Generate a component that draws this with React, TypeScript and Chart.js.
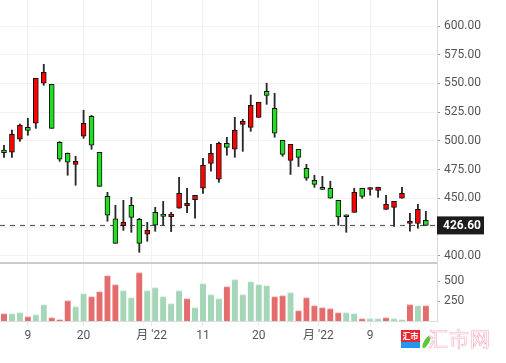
import React, { useEffect, useRef } from 'react';
import { Chart, registerables } from 'chart.js';

Chart.register(...registerables);

// ---- data ----
const opens = [
  492.2, 490.2, 501.5, 511.9, 515.4, 550.2, 549.3, 498.9, 489.3, 479.7,
  504.1, 521.5, 490.2, 451.9, 432.4, 426.3, 444.1, 431.9, 418.9, 438.0,
  436.5, 434.2, 441.5, 443.7, 449.0, 458.9, 480.6, 466.7, 498.0, 492.8,
  514.5, 511.9, 520.6, 543.2, 528.4, 500.6, 483.2, 492.8, 476.3, 465.8,
  459.7, 458.9, 448.4, 435.8, 438.0, 458.9, 458.0, 457.1, 440.6, 442.3,
  450.2, 428.4, 428.4, 431.0,
];
const highs = [
  496.3, 509.6, 514.8, 519.7, 554.5, 566.7, 549.3, 499.5, 489.6, 486.7,
  526.7, 522.3, 490.2, 455.4, 444.1, 448.4, 451.0, 432.8, 429.3, 442.3,
  447.5, 438.0, 468.4, 458.9, 452.7, 485.0, 497.1, 499.1, 503.2, 520.6,
  518.9, 540.0, 533.6, 550.2, 541.5, 500.6, 497.1, 492.8, 479.7, 470.2,
  469.3, 465.0, 448.4, 435.8, 458.9, 458.9, 459.6, 459.8, 452.8, 447.5,
  459.7, 437.1, 445.0, 438.9,
];
const lows = [
  485.8, 485.8, 499.7, 505.0, 511.0, 548.4, 511.0, 482.3, 470.2, 461.5,
  502.3, 492.8, 460.6, 430.2, 411.0, 422.3, 420.6, 403.2, 412.8, 421.5,
  426.7, 421.2, 441.5, 437.7, 432.8, 454.4, 473.7, 464.1, 487.6, 485.8,
  491.0, 508.4, 520.6, 531.9, 503.2, 486.7, 470.9, 477.8, 465.8, 459.7,
  458.0, 450.2, 426.7, 420.6, 438.0, 450.2, 452.8, 451.0, 440.6, 425.8,
  450.2, 421.5, 424.1, 426.6,
];
const closes = [
  489.8, 505.8, 513.6, 509.3, 554.5, 559.7, 511.0, 484.1, 481.5, 482.3,
  515.4, 496.3, 460.6, 435.4, 411.0, 429.3, 433.6, 411.0, 422.3, 426.7,
  434.5, 436.5, 454.4, 445.8, 452.7, 478.8, 489.3, 498.0, 494.5, 509.3,
  517.1, 531.0, 533.6, 539.7, 506.7, 488.4, 497.1, 485.8, 467.6, 462.3,
  458.0, 450.2, 434.0, 434.2, 455.4, 451.9, 459.6, 459.8, 445.0, 447.5,
  454.5, 430.1, 440.6, 426.6,
];
const volumes = [
  92, 92, 104, 54, 79, 204, 42, 17, 254, 179,
  342, 304, 367, 567, 454, 379, 292, 604, 379, 417,
  304, 217, 379, 279, 167, 467, 329, 279, 429, 517,
  329, 492, 454, 442, 304, 317, 354, 129, 292, 192,
  167, 154, 104, 104, 92, 29, 29, 29, 42, 29,
  17, 204, 192, 192,
];
const xTickPositions = [3, 10, 18.55, 25, 32, 39.5, 46];
const xTickLabels = ['9', '20', "月 '22", '11', '20', "月 '22", '9'];
const priceTicks = [400, 425, 450, 475, 500, 525, 550, 575, 600];
const volumeTicks = [250, 500];
const lastPrice = 426.6;

// ---- styles ----
const CANDLE_UP = '#ff0000';
const CANDLE_DOWN = '#22dd22';
const VOL_UP = '#a5d6b7';
const VOL_UP_TOP = '#cdeedb';
const VOL_DOWN = '#e46c6c';
const VOL_DOWN_TOP = '#f3b3b3';
const FONT = 'Roboto, "Noto Sans CJK SC", sans-serif';

const W = 506;
const H = 363;
const PLOT_RIGHT = 437;
const PLOT_BOTTOM = 321;

const overlayPlugin = {
  id: 'overlay',
  beforeDatasetsDraw(chart: any) {
    const { ctx, chartArea } = chart;
    const y = chart.scales.y;
    const py = Math.round(y.getPixelForValue(lastPrice)) + 0.5;
    ctx.save();
    ctx.strokeStyle = '#5a5a5a';
    ctx.lineWidth = 1.2;
    ctx.setLineDash([5, 5]);
    ctx.beginPath();
    ctx.moveTo(chartArea.left, py);
    ctx.lineTo(chartArea.right, py);
    ctx.stroke();
    ctx.restore();
  },
  afterDraw(chart: any) {
    const { ctx, chartArea } = chart;
    const y = chart.scales.y;
    ctx.save();
    // separator between price and volume panes
    ctx.strokeStyle = '#cccccc';
    ctx.lineWidth = 2;
    ctx.beginPath();
    ctx.moveTo(chartArea.left, y.bottom);
    ctx.lineTo(chartArea.right, y.bottom);
    ctx.stroke();
    // last price label
    const py = y.getPixelForValue(lastPrice);
    ctx.fillStyle = '#1c1c1c';
    ctx.fillRect(chartArea.right, py - 9, 47, 18);
    ctx.fillStyle = '#ffffff';
    ctx.font = `bold 12px ${FONT}`;
    ctx.textBaseline = 'middle';
    ctx.textAlign = 'left';
    ctx.fillText(lastPrice.toFixed(2), chartArea.right + 6, py + 0.5);
    ctx.restore();
  },
};

export default function App() {
  const ref = useRef<HTMLCanvasElement | null>(null);

  useEffect(() => {
    if (!ref.current) return;
    const idx = closes.map((_, i) => i);
    const bodyColors = idx.map((i) => (closes[i] >= opens[i] ? CANDLE_UP : CANDLE_DOWN));
    const volUp = idx.map((i) => (i === 0 ? closes[0] >= opens[0] : closes[i] >= closes[i - 1]));

    const chart = new Chart(ref.current, {
      type: 'bar',
      data: {
        datasets: [
          {
            label: 'body',
            data: idx.map((i) => ({ x: i, y: [opens[i], closes[i]] })) as any,
            backgroundColor: bodyColors,
            borderColor: '#111111',
            borderWidth: 1,
            borderSkipped: false,
            barThickness: 5,
            grouped: false,
            yAxisID: 'y',
            order: 0,
          },
          {
            label: 'wick',
            data: idx.map((i) => ({ x: i, y: [lows[i], highs[i]] })) as any,
            backgroundColor: '#2a2a2a',
            borderWidth: 0,
            barThickness: 1.2,
            grouped: false,
            yAxisID: 'y',
            order: 1,
          },
          {
            label: 'volume',
            data: idx.map((i) => ({ x: i, y: volumes[i] })) as any,
            backgroundColor: volUp.map((u) => (u ? VOL_UP : VOL_DOWN)),
            borderColor: volUp.map((u) => (u ? VOL_UP_TOP : VOL_DOWN_TOP)),
            borderWidth: { top: 1, left: 0, right: 0, bottom: 0 },
            borderSkipped: 'start',
            barThickness: 6,
            grouped: false,
            yAxisID: 'yv',
            order: 2,
          },
        ],
      },
      options: {
        responsive: false,
        animation: false,
        events: [],
        layout: { padding: 0 },
        font: { family: FONT, size: 12 },
        plugins: { legend: { display: false }, tooltip: { enabled: false } },
        scales: {
          x: {
            type: 'linear',
            position: 'bottom',
            min: -0.5,
            max: 54.4,
            offset: false,
            grid: { color: '#f1f1f1', tickColor: '#e6e6e6', tickLength: 5, offset: false },
            border: { color: '#dedede' },
            ticks: {
              color: '#555555',
              font: { family: FONT, size: 12 },
              padding: 3,
              autoSkip: false,
              maxRotation: 0,
              callback: (_v: any, i: number) => xTickLabels[i],
            },
            afterBuildTicks: (s: any) => {
              s.ticks = xTickPositions.map((v) => ({ value: v }));
            },
            afterFit: (s: any) => {
              s.height = H - PLOT_BOTTOM;
              s.paddingLeft = 0;
              s.paddingRight = 0;
            },
          },
          y: {
            type: 'linear',
            position: 'right',
            stack: 'panes',
            stackWeight: 263,
            min: 393.91,
            max: 622.61,
            grid: { color: '#f3f3f3', tickColor: '#9a9a9a', tickLength: 3 },
            border: { color: '#d9d9d9' },
            ticks: {
              color: '#555555',
              font: { family: FONT, size: 12 },
              padding: 4,
              callback: (v: any) => Number(v).toFixed(2),
            },
            afterBuildTicks: (s: any) => {
              s.ticks = priceTicks.map((v) => ({ value: v }));
            },
            afterFit: (s: any) => {
              s.width = W - PLOT_RIGHT;
              s.paddingTop = 0;
              s.paddingBottom = 0;
            },
          },
          yv: {
            type: 'linear',
            position: 'right',
            stack: 'panes',
            stackWeight: 58,
            min: 0,
            max: 725,
            grid: { drawOnChartArea: false, tickColor: '#9a9a9a', tickLength: 3 },
            border: { color: '#d9d9d9' },
            ticks: {
              color: '#555555',
              font: { family: FONT, size: 12 },
              padding: 4,
              callback: (v: any) => String(v),
            },
            afterBuildTicks: (s: any) => {
              s.ticks = volumeTicks.map((v) => ({ value: v }));
            },
            afterFit: (s: any) => {
              s.width = W - PLOT_RIGHT;
              s.paddingTop = 0;
              s.paddingBottom = 0;
            },
          },
        },
      } as any,
      plugins: [overlayPlugin],
    });
    return () => chart.destroy();
  }, []);

  return (
    <div style={{ position: 'absolute', left: 0, top: 0, width: W, height: H, background: '#ffffff', overflow: 'hidden' }}>
      <canvas ref={ref} width={W} height={H} style={{ display: 'block', width: W, height: H }} />
      <div style={{ position: 'absolute', left: 401, top: 330, width: 19, height: 18 }}>
        <div style={{ height: 12, background: '#e8262c', color: '#fff', fontFamily: '"Noto Sans CJK SC"', fontSize: 8, fontWeight: 700, lineHeight: '12px', textAlign: 'center' }}>汇市</div>
        <div style={{ height: 6, background: '#2196f3' }} />
      </div>
      <div style={{ position: 'absolute', left: 424, top: 335, width: 5, height: 14, background: '#5cc83a', borderRadius: '50%', transform: 'rotate(30deg)' }} />
      <div style={{ position: 'absolute', left: 428, top: 326, fontFamily: '"Noto Sans CJK SC"', fontSize: 20, lineHeight: '26px', letterSpacing: 1, color: '#ffffff', WebkitTextStroke: '0.6px #f6adbd' } as any}>汇市网</div>
    </div>
  );
}
